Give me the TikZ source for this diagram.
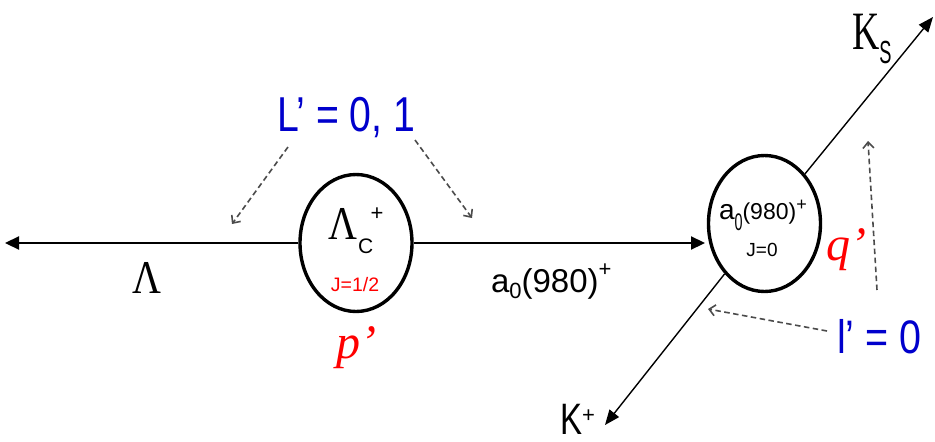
\documentclass[tikz,border=0pt]{standalone}
\usepackage{fontspec}
\setmainfont{Liberation Serif}
\setsansfont{Liberation Sans}
\usetikzlibrary{arrows.meta,shapes.geometric}
\definecolor{lblue}{RGB}{0,0,204}
\definecolor{lred}{RGB}{255,0,0}
\definecolor{hintgray}{RGB}{75,75,75}
\newcommand{\fs}[1]{\fontsize{#1}{#1}\selectfont}
\begin{document}
\begin{tikzpicture}[x=1pt,y=-1pt,
  bubble/.style={ellipse, draw=black, line width=3.4pt, fill=white, inner sep=0pt},
  mainarrow/.style={line width=2.2pt, -{Triangle[length=14pt,width=13pt]}},
  decay/.style={line width=1.4pt, -{Triangle[length=15pt,width=12pt]}},
  hint/.style={draw=hintgray, line width=1.6pt, dash pattern=on 5.5pt off 3.5pt,
    -{Straight Barb[length=6pt,width=11pt]}},
  txt/.style={inner sep=0pt, outer sep=0pt},
  bluelabel/.style={txt, text=lblue, font=\sffamily},
  redlabel/.style={txt, text=lred}
]
\useasboundingbox (0,0) rectangle (935,442);

% particles
\node[bubble, minimum width=112pt, minimum height=137pt] (lc) at (356,243) {};
\node[bubble, minimum width=112pt, minimum height=136pt] (a0) at (764.5,223.5) {};

% end points
\coordinate (lamtip) at (5,243);
\coordinate (a0in) at (705,243);
\coordinate (kstip) at (933,17);
\coordinate (kptip) at (605,425);

% main arrows
\draw[mainarrow] (lc.west) -- (lamtip);
\draw[mainarrow] (lc.east) -- (a0in);
\draw[decay] (a0) -- (kstip);
\draw[decay] (a0) -- (kptip);

% labels on lines
\node[txt, anchor=base] (lam) at (147,293) {\fs{47}\scalebox{0.85}[1]{Λ}};
\node[txt, anchor=base west, font=\sffamily] (a0lab) at (491,292)
  {\fs{33}a\raisebox{-6pt}{\fs{22}0}(980)\raisebox{16pt}{\fs{22}+}};
\node[txt, anchor=base west] (ks) at (852,49)
  {\fs{54}\scalebox{0.7}[1]{K}\raisebox{-14pt}{\sffamily\fs{32}\scalebox{0.57}[1]{S}}};
\node[txt, anchor=base west, font=\sffamily] (kp) at (560,434)
  {\fs{44}\scalebox{0.75}[1]{K}\raisebox{12pt}{\fs{22}+}};

% inside Lambda_c
\node[txt, anchor=base west] (lcname) at (328,239) {\fs{47}\scalebox{0.85}[1]{Λ}};
\node[txt, anchor=base west, font=\sffamily] (lcsub) at (358,253) {\fs{21}C};
\node[txt, font=\sffamily] (lcsup) at (377,214.5) {\fs{22}+};
\node[txt, anchor=base, text=lred, font=\sffamily] (lcj) at (355,291) {\fs{19.5}J=1/2};

% inside a0
\node[txt, anchor=base west, font=\sffamily] (a0name) at (719,219)
  {\fs{28}a\raisebox{-11pt}{\fs{24}\scalebox{0.6}[1]{0}}\fs{23}(980)\raisebox{9pt}{\fs{18}+}};
\node[txt, anchor=base, font=\sffamily] (a0j) at (762,256) {\fs{19}J=0};

% primed momenta
\node[redlabel, anchor=base west] (pp) at (336,358) {\fs{48}\itshape p’};
\node[redlabel, anchor=base west] (qq) at (826,260) {\fs{48}\itshape q’};

% angular momenta
\node[bluelabel, anchor=base west] (Lp) at (277,131) {\fs{49}\scalebox{0.8}[1]{L’ = 0, 1}};
\node[bluelabel, anchor=base west] (lp) at (837,353) {\fs{47}\scalebox{0.84}[1]{l’ = 0}};

% hint arrows
\coordinate (h1s) at (288,147);
\coordinate (h1e) at (232,224);
\coordinate (h2s) at (415,140);
\coordinate (h2e) at (472,218);
\coordinate (h3s) at (877,290);
\coordinate (h3e) at (868,141);
\coordinate (h4s) at (827,331);
\coordinate (h4e) at (708,309);
\draw[hint] (h1s) -- (h1e);
\draw[hint] (h2s) -- (h2e);
\draw[hint] (h3s) -- (h3e);
\draw[hint] (h4s) -- (h4e);
\end{tikzpicture}
\end{document}
